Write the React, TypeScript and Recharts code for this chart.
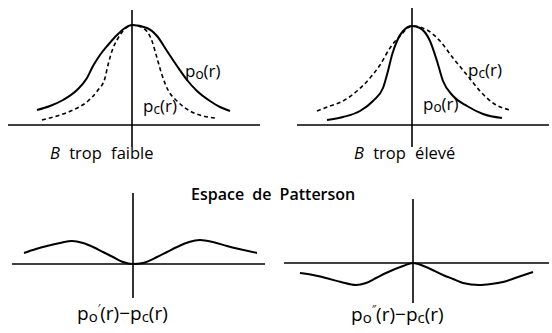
import React from "react";
import { LineChart, Line, XAxis, YAxis, ReferenceLine } from "recharts";

// Panel 1 : B trop faible (r, relative density; peak = 100)
const p1Observed = [
  { r: -95, v: 15 }, { r: -82, v: 19 }, { r: -69, v: 25 }, { r: -55, v: 35 },
  { r: -45, v: 47 }, { r: -39, v: 59 }, { r: -32, v: 70 }, { r: -24, v: 80 },
  { r: -15, v: 90 }, { r: -7, v: 97 }, { r: 0, v: 100 }, { r: 15, v: 97 },
  { r: 25, v: 89 }, { r: 35, v: 74 }, { r: 45, v: 59 }, { r: 55, v: 45 },
  { r: 65, v: 34 }, { r: 78, v: 24 }, { r: 88, v: 18 }, { r: 98, v: 14 },
];
const p1Calc = [
  { r: -90, v: 5 }, { r: -75, v: 9 }, { r: -59, v: 15 }, { r: -44, v: 24 },
  { r: -34, v: 35 }, { r: -27, v: 47 }, { r: -24, v: 60 }, { r: -20, v: 74 },
  { r: -15, v: 85 }, { r: -9, v: 94 }, { r: 0, v: 100 }, { r: 11, v: 97 },
  { r: 20, v: 84 }, { r: 25, v: 67 }, { r: 30, v: 50 }, { r: 36, v: 35 },
  { r: 45, v: 24 }, { r: 58, v: 14 }, { r: 71, v: 9 }, { r: 83, v: 7 },
];

// Panel 2 : B trop élevé
const p2Calc = [
  { r: -95, v: 14 }, { r: -82, v: 19 }, { r: -69, v: 24 }, { r: -55, v: 34 },
  { r: -42, v: 47 }, { r: -32, v: 60 }, { r: -22, v: 77 }, { r: -12, v: 89 },
  { r: 0, v: 99 }, { r: 15, v: 95 }, { r: 28, v: 84 }, { r: 41, v: 67 },
  { r: 55, v: 50 }, { r: 68, v: 34 }, { r: 81, v: 22 }, { r: 98, v: 15 },
];
const p2Observed = [
  { r: -85, v: 5 }, { r: -69, v: 8 }, { r: -52, v: 14 }, { r: -39, v: 24 },
  { r: -29, v: 37 }, { r: -24, v: 54 }, { r: -20, v: 70 }, { r: -15, v: 84 },
  { r: -9, v: 94 }, { r: 0, v: 99 }, { r: 8, v: 97 }, { r: 18, v: 84 },
  { r: 25, v: 64 }, { r: 31, v: 44 }, { r: 41, v: 29 }, { r: 55, v: 19 },
  { r: 71, v: 11 }, { r: 90, v: 7 },
];

// Panel 3 : difference, B trop faible
const p3Diff = [
  { r: -109, v: 11 }, { r: -97, v: 15 }, { r: -86, v: 18 }, { r: -73, v: 21 },
  { r: -61, v: 23 }, { r: -50, v: 21 }, { r: -40, v: 17 }, { r: -30, v: 12 },
  { r: -20, v: 7 }, { r: -10, v: 2 }, { r: 0, v: 0 }, { r: 10, v: 1 },
  { r: 24, v: 7 }, { r: 34, v: 12 }, { r: 44, v: 17 }, { r: 56, v: 22 },
  { r: 67, v: 24 }, { r: 80, v: 22 }, { r: 94, v: 18 }, { r: 124, v: 11 },
];

// Panel 4 : difference, B trop élevé
const p4Diff = [
  { r: -113, v: -10 }, { r: -100, v: -12 }, { r: -87, v: -15 }, { r: -72, v: -19 },
  { r: -57, v: -22 }, { r: -47, v: -20 }, { r: -37, v: -15 }, { r: -27, v: -10 },
  { r: -10, v: -3 }, { r: 0, v: 0 }, { r: 13, v: -4 }, { r: 30, v: -12 },
  { r: 40, v: -16 }, { r: 50, v: -20 }, { r: 66, v: -22 }, { r: 78, v: -21 },
  { r: 90, v: -19 }, { r: 105, v: -14 }, { r: 120, v: -9 },
];

type Pt = { r: number; v: number };
type Series = { data: Pt[]; dashed?: boolean };

const FONT = "'Open Sans', Lato, sans-serif";

function Panel(props: {
  left: number; top: number; width: number; height: number;
  xDomain: [number, number]; yDomain: [number, number]; series: Series[];
}) {
  const { left, top, width, height, xDomain, yDomain, series } = props;
  return (
    <div style={{ position: "absolute", left, top, width, height }}>
      <LineChart width={width} height={height} margin={{ top: 0, right: 0, bottom: 0, left: 0 }}>
        <XAxis type="number" dataKey="r" domain={xDomain} hide allowDataOverflow />
        <YAxis type="number" dataKey="v" domain={yDomain} hide allowDataOverflow />
        <ReferenceLine x={0} stroke="#000" strokeWidth={1.6} />
        <ReferenceLine y={0} stroke="#000" strokeWidth={1.6} />
        {series.map((s, i) => (
          <Line
            key={i}
            data={s.data}
            dataKey="v"
            type="monotone"
            stroke="#000"
            strokeWidth={s.dashed ? 1.6 : 2}
            strokeDasharray={s.dashed ? "4 3" : undefined}
            dot={false}
            activeDot={false}
            isAnimationActive={false}
          />
        ))}
      </LineChart>
    </div>
  );
}

function PLabel(props: { x: number; y: number; sub: string; size?: number }) {
  const { x, y, sub, size = 17 } = props;
  return (
    <text x={x} y={y} fontSize={size} fontFamily={FONT} fill="#000">
      p<tspan dy={2} fontSize={size * 0.8}>{sub}</tspan><tspan dy={-2}>(r)</tspan>
    </text>
  );
}

function DiffLabel(props: { x: number; y: number; prime: string }) {
  const { x, y, prime } = props;
  return (
    <text x={x} y={y} fontSize={19} fontFamily={FONT} fill="#000">
      p<tspan dy={2} fontSize={15}>o</tspan><tspan dy={-10} fontSize={11}>{prime}</tspan><tspan dy={8}>(r)−p</tspan><tspan dy={2} fontSize={15}>c</tspan><tspan dy={-2}>(r)</tspan>
    </text>
  );
}

export default function App() {
  return (
    <div style={{ position: "absolute", left: 0, top: 0, width: 552, height: 333, background: "#fff", overflow: "hidden" }}>
      <Panel left={8} top={10} width={252} height={137} xDomain={[-124, 128]} yDomain={[-22, 115]}
        series={[{ data: p1Observed }, { data: p1Calc, dashed: true }]} />
      <Panel left={297} top={8} width={252} height={139} xDomain={[-115, 137]} yDomain={[-22, 117]}
        series={[{ data: p2Calc, dashed: true }, { data: p2Observed }]} />
      <Panel left={12} top={193} width={253} height={105} xDomain={[-121, 132]} yDomain={[-34, 71]}
        series={[{ data: p3Diff }]} />
      <Panel left={284} top={199} width={265} height={104} xDomain={[-129, 136]} yDomain={[-40, 64]}
        series={[{ data: p4Diff }]} />
      <svg width={552} height={333} style={{ position: "absolute", left: 0, top: 0, pointerEvents: "none" }}>
        <PLabel x={185} y={77} sub="o" />
        <PLabel x={143} y={112} sub="c" />
        <PLabel x={468} y={76} sub="c" />
        <PLabel x={423} y={110} sub="o" />
        <text x={50} y={159} fontSize={16.5} fontFamily={FONT} fill="#000" wordSpacing={5}>
          <tspan fontStyle="italic">B</tspan> trop faible
        </text>
        <text x={354} y={159} fontSize={16.5} fontFamily={FONT} fill="#000" wordSpacing={5}>
          <tspan fontStyle="italic">B</tspan> trop élevé
        </text>
        <text x={191} y={200} fontSize={16} fontWeight={600} fontFamily={FONT} fill="#000" wordSpacing={4}>
          Espace de Patterson
        </text>
        <DiffLabel x={77} y={320} prime="′" />
        <DiffLabel x={351} y={321} prime="″" />
      </svg>
    </div>
  );
}
